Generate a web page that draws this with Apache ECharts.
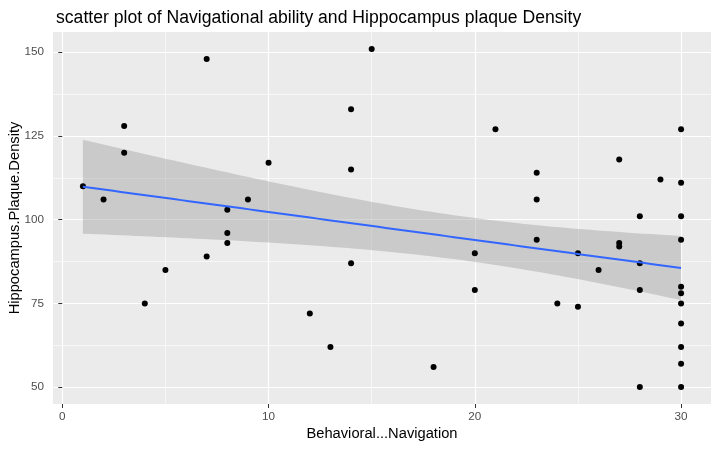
<!DOCTYPE html>
<html>
<head>
<meta charset="utf-8">
<script src="https://cdn.jsdelivr.net/npm/echarts@6/dist/echarts.min.js"></script>
<style>
  html, body { margin: 0; background: #fff; }
  #chart { width: 719px; height: 450px; }
</style>
</head>
<body>
<div id="chart"></div>
<script>
// data
const navigation = [1, 2, 3, 3, 4, 5, 7, 7, 8, 8, 8, 9, 10, 12, 13, 14, 14, 14, 15, 18,
  20, 20, 21, 23, 23, 23, 24, 25, 25, 26, 27, 27, 27, 28, 28, 28, 28, 29,
  30, 30, 30, 30, 30, 30, 30, 30, 30, 30, 30];
const plaqueDensity = [110, 106, 128, 120, 75, 85, 148, 89, 103, 96, 93, 106, 117, 72, 62, 133, 115, 87, 151, 56,
  90, 79, 127, 114, 106, 94, 75, 90, 74, 85, 118, 93, 92, 101, 87, 79, 50, 112,
  127, 111, 101, 94, 80, 78, 75, 69, 62, 57, 50];
const xTicks = [0, 10, 20, 30];
const xMinor = [5, 15, 25];
const yTicks = [50, 75, 100, 125, 150];
const yMinor = [62.5, 87.5, 112.5, 137.5];
const tCrit = 2.0117; // qt(0.975, 47)

const FONT = "'Liberation Sans', Arial, sans-serif";

// lm fit + 95% band, like geom_smooth(method = "lm")
const n = navigation.length;
const xbar = navigation.reduce((a, b) => a + b, 0) / n;
const ybar = plaqueDensity.reduce((a, b) => a + b, 0) / n;
let sxx = 0, sxy = 0;
for (let i = 0; i < n; i++) {
  sxx += (navigation[i] - xbar) ** 2;
  sxy += (navigation[i] - xbar) * (plaqueDensity[i] - ybar);
}
const slope = sxy / sxx;
const icpt = ybar - slope * xbar;
let sse = 0;
for (let i = 0; i < n; i++) sse += (plaqueDensity[i] - icpt - slope * navigation[i]) ** 2;
const sigma = Math.sqrt(sse / (n - 2));

const xLo = Math.min(...navigation), xHi = Math.max(...navigation);
const fit = [], upper = [], lower = [];
for (let i = 0; i < 80; i++) {
  const x = xLo + (xHi - xLo) * i / 79;
  const y = icpt + slope * x;
  const se = sigma * Math.sqrt(1 / n + (x - xbar) ** 2 / sxx);
  fit.push([x, y]);
  upper.push([x, y + tCrit * se]);
  lower.push([x, y - tCrit * se]);
}

// ggplot pads the data range by 5%
const yLo = Math.min(...plaqueDensity), yHi = Math.max(...plaqueDensity);
const xPad = (xHi - xLo) * 0.05, yPad = (yHi - yLo) * 0.05;

const points = navigation.map((x, i) => [x, plaqueDensity[i]]);

const chart = echarts.init(document.getElementById('chart'));
chart.setOption({
  animation: false,
  title: {
    text: 'scatter plot of Navigational ability and Hippocampus plaque Density',
    left: 51, top: 4,
    textStyle: { fontFamily: FONT, fontSize: 17.6, fontWeight: 'normal', color: '#000' }
  },
  grid: {
    left: 53, right: 8, top: 32, bottom: 46,
    containLabel: false, outerBoundsMode: 'none',
    show: true, backgroundColor: '#EBEBEB', borderWidth: 0
  },
  xAxis: [
    {
      type: 'value', min: xLo - xPad, max: xHi + xPad,
      name: 'Behavioral...Navigation', nameLocation: 'middle', nameGap: 22, nameMoveOverlap: false,
      nameTextStyle: { fontFamily: FONT, fontSize: 14.7, color: '#000' },
      axisLine: { show: false },
      axisTick: { show: true, length: 4, customValues: xTicks, lineStyle: { color: '#333', width: 1 } },
      axisLabel: { customValues: xTicks, color: '#4D4D4D', fontSize: 11.7, fontFamily: FONT, margin: 7 },
      splitLine: { show: true, lineStyle: { color: '#fff', width: 1.2 } }
    },
    {
      type: 'value', min: xLo - xPad, max: xHi + xPad, position: 'bottom',
      axisLine: { show: false },
      axisTick: { show: false, customValues: xMinor },
      axisLabel: { show: false },
      splitLine: { show: true, lineStyle: { color: '#fff', width: 0.6 } }
    }
  ],
  yAxis: [
    {
      type: 'value', min: yLo - yPad, max: yHi + yPad,
      name: 'Hippocampus.Plaque.Density', nameLocation: 'middle', nameGap: 31, nameMoveOverlap: false,
      nameTextStyle: { fontFamily: FONT, fontSize: 14.7, color: '#000' },
      axisLine: { show: false },
      axisTick: { show: true, length: 4, customValues: yTicks, lineStyle: { color: '#333', width: 1 } },
      axisLabel: { customValues: yTicks, color: '#4D4D4D', fontSize: 11.7, fontFamily: FONT, margin: 9 },
      splitLine: { show: true, lineStyle: { color: '#fff', width: 1.2 } }
    },
    {
      type: 'value', min: yLo - yPad, max: yHi + yPad, position: 'left',
      axisLine: { show: false },
      axisTick: { show: false, customValues: yMinor },
      axisLabel: { show: false },
      splitLine: { show: true, lineStyle: { color: '#fff', width: 0.6 } }
    }
  ],
  series: [
    {
      type: 'scatter', data: points, symbolSize: 6,
      itemStyle: { color: '#000', opacity: 1 }
    },
    {
      type: 'custom', silent: true,
      data: [fit[0]],
      renderItem: (params, api) => {
        const pts = upper.map(p => api.coord(p))
          .concat(lower.slice().reverse().map(p => api.coord(p)));
        return { type: 'polygon', shape: { points: pts }, style: { fill: 'rgba(153,153,153,0.4)' } };
      }
    },
    {
      type: 'line', data: fit, showSymbol: false, symbol: 'none',
      lineStyle: { color: '#3366FF', width: 2 }
    }
  ]
});
</script>
</body>
</html>
